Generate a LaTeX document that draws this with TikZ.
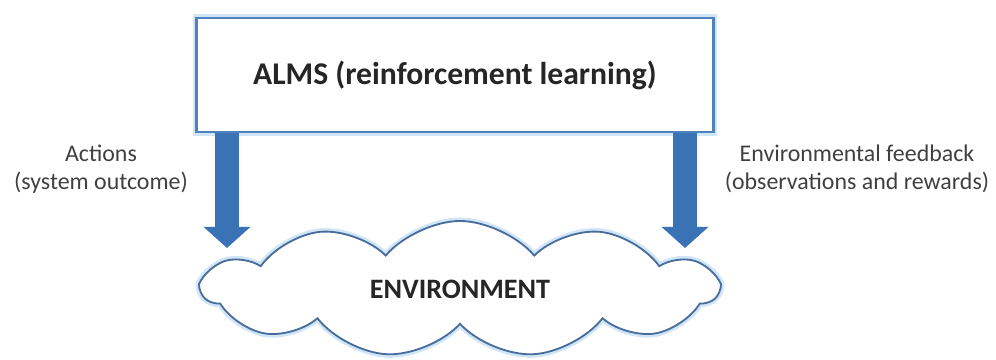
\documentclass[tikz,border=0pt]{standalone}
\usepackage{fontspec}
\setmainfont{Carlito}
\usetikzlibrary{arrows.meta,shapes.symbols}
\definecolor{boxblue}{RGB}{79,129,189}
\definecolor{arrowblue}{RGB}{58,115,181}
\definecolor{cloudline}{RGB}{72,108,156}
\definecolor{glowblue}{RGB}{208,229,246}
\definecolor{textgray}{RGB}{38,38,38}
\definecolor{labelgray}{RGB}{64,64,64}
\begin{document}
\begin{tikzpicture}[x=0.025cm, y=-0.025cm,
        almsbox/.style={draw=boxblue, line width=2.1pt, fill=white, minimum width=12.9cm, minimum height=2.85cm, inner sep=0pt,
            preaction={draw=glowblue, line width=5pt}, text=textgray, font=\bfseries\fontsize{22.5}{26}\selectfont},
        envcloud/.style={cloud, cloud puffs=11, cloud puff arc=100, aspect=3.7, draw=cloudline, line width=1.3pt, fill=white,
            minimum width=12.875cm, minimum height=3.4cm, inner sep=0pt,
            preaction={draw=glowblue, line width=5pt}, text=textgray, font=\bfseries\fontsize{20}{24}\selectfont},
        sidelabel/.style={align=center, text=labelgray, font=\fontsize{17}{20}\selectfont},
        flow/.style={draw=arrowblue, line width=0.6cm, -{Triangle[width=1.15cm, length=0.53cm]}}]
    \useasboundingbox (0,0) rectangle (996,360);

    \node[almsbox] (alms) at (455,75) {ALMS (reinforcement learning)};
    \node[envcloud] (env) at (460,289) {ENVIRONMENT};

    \coordinate (actTip) at (227,248);
    \coordinate (fbTip) at (685,248);
    \draw[flow] (alms.south -| actTip) -- (actTip);
    \draw[flow] (alms.south -| fbTip) -- (fbTip);

    \node[sidelabel] (actLabel) at (101,169) {Actions\\(system outcome)};
    \node[sidelabel] (fbLabel) at (857,169) {Environmental feedback\\(observations and rewards)};
\end{tikzpicture}
\end{document}
